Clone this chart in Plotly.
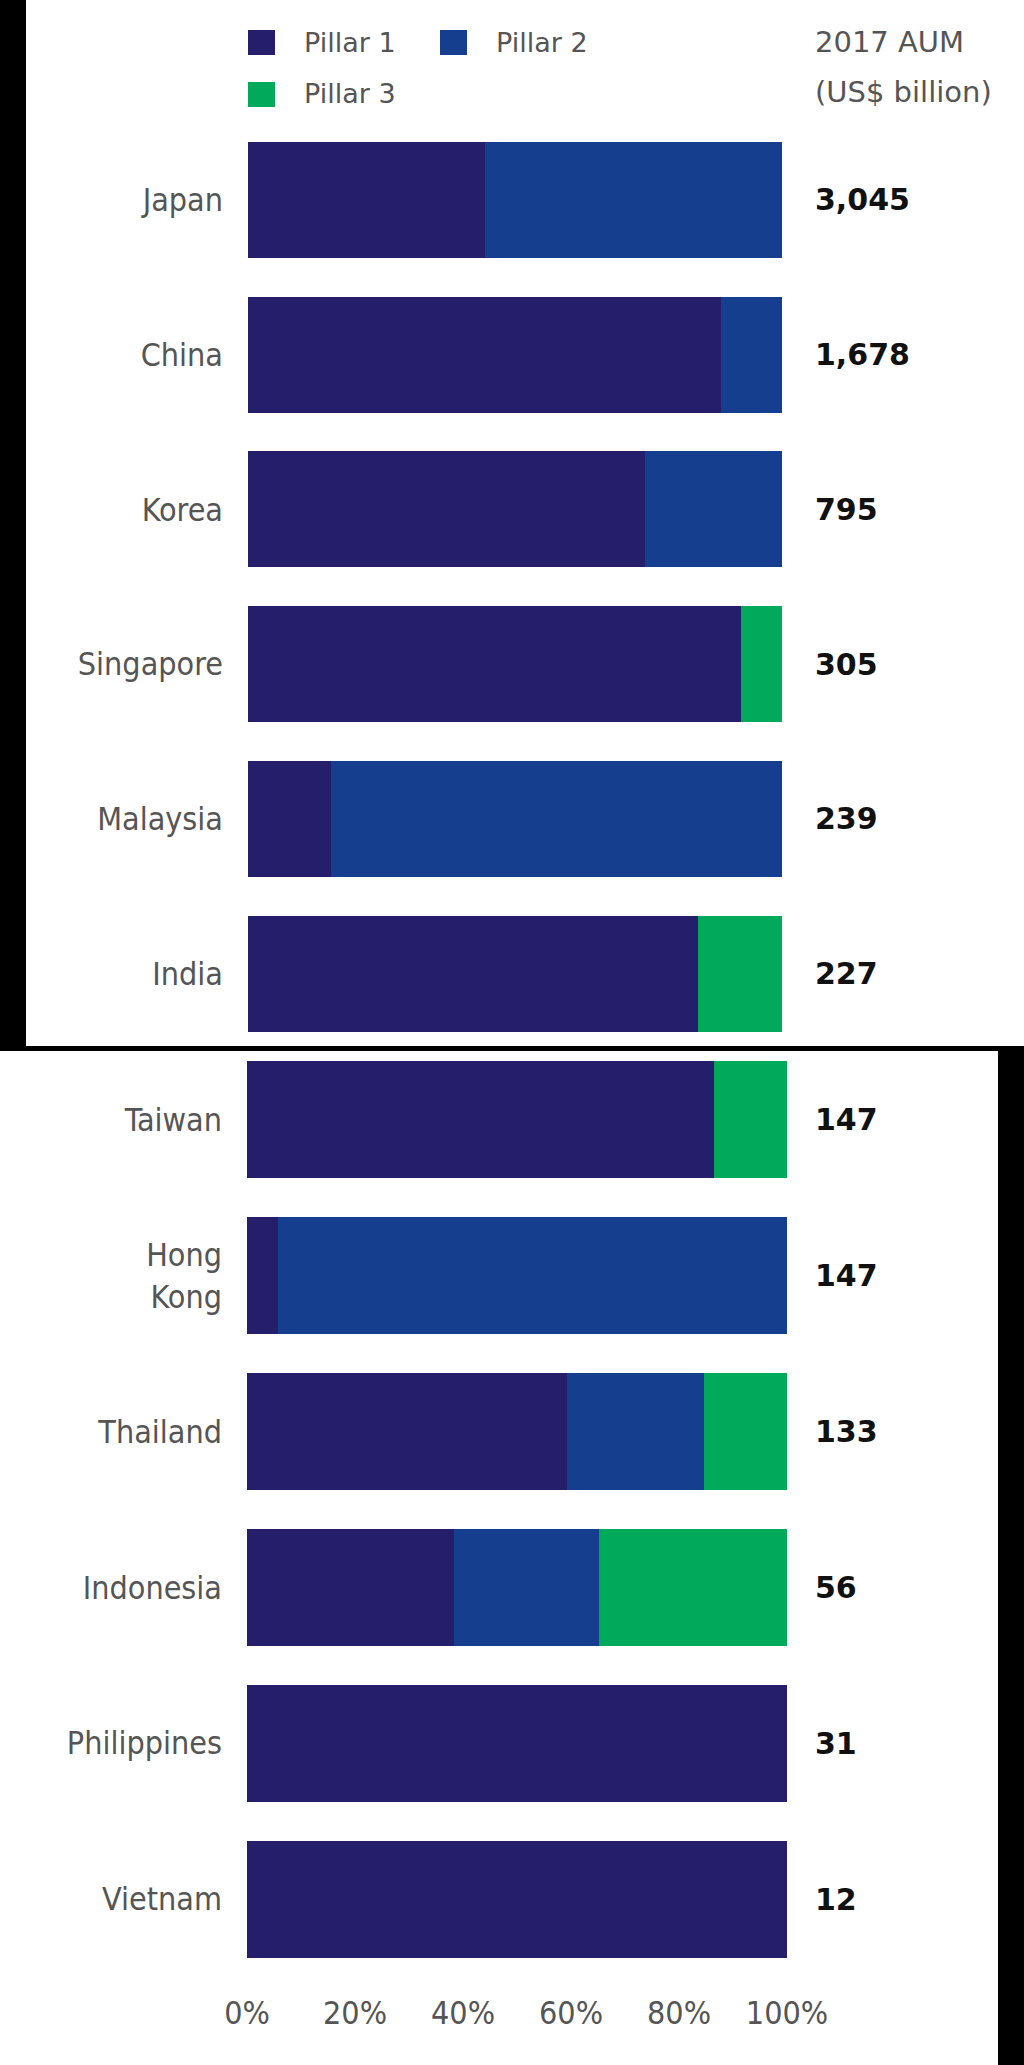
import plotly.graph_objects as go

# shares of AUM by pillar (%)
countries = ["Japan", "China", "Korea", "Singapore", "Malaysia", "India",
             "Taiwan", "Hong Kong", "Thailand", "Indonesia", "Philippines", "Vietnam"]
pillar_1 = [44.4, 88.5, 74.4, 92.3, 15.6, 84.3, 86.5, 5.7, 59.3, 38.3, 100, 100]
pillar_2 = [55.6, 11.5, 25.6, 0, 84.4, 0, 0, 94.3, 25.3, 26.8, 0, 0]
pillar_3 = [0, 0, 0, 7.7, 0, 15.7, 13.5, 0, 15.4, 34.9, 0, 0]
aum_2017 = [3045, 1678, 795, 305, 239, 227, 147, 147, 133, 56, 31, 12]

pillar_names = ["Pillar 1", "Pillar 2", "Pillar 3"]
pillar_colors = ["#251f6b", "#153f8e", "#00aa5a"]
x_ticks = [0, 20, 40, 60, 80, 100]

W, H = 1024, 2065
LABEL_FONT = "Liberation Sans Narrow, DejaVu Sans Condensed, Arial Narrow, sans-serif"
TEXT_FONT = "DejaVu Sans, Verdana, sans-serif"
GREY = "#555555"


def px_x(x):
    return x / W


def px_y(y):
    return 1 - y / H


# the picture is two screenshots stacked: first six countries, then the rest
split = 6
panels = [("x", "y", slice(0, split)), ("x2", "y2", slice(split, None))]

fig = go.Figure()
for name, color, values in zip(pillar_names, pillar_colors, [pillar_1, pillar_2, pillar_3]):
    for xa, ya, sl in panels:
        fig.add_trace(go.Bar(
            x=values[sl], y=countries[sl], orientation="h", name=name,
            marker=dict(color=color, line=dict(width=0)),
            xaxis=xa, yaxis=ya, showlegend=False,
            hovertemplate="%{y}: %{x}%<extra>" + name + "</extra>",
        ))


def y_axis(domain, cats, xa):
    return dict(
        domain=domain, anchor=xa, type="category", automargin=False,
        categoryorder="array", categoryarray=cats, autorange="reversed",
        tickvals=cats, ticktext=[c.replace(" ", "<br>") for c in cats],
        tickfont=dict(family=LABEL_FONT, size=32, color=GREY),
        ticklabelstandoff=24, ticks="", showgrid=False, zeroline=False, showline=False,
    )


fig.update_layout(
    width=W, height=H, autosize=False,
    margin=dict(l=0, r=0, t=0, b=0, pad=0, autoexpand=False),
    paper_bgcolor="white", plot_bgcolor="rgba(0,0,0,0)",
    barmode="stack", bargap=0.25,
    xaxis=dict(domain=[px_x(248), px_x(782)], anchor="y", range=[0, 100], automargin=False,
               showticklabels=False, ticks="", showgrid=False, zeroline=False),
    yaxis=y_axis([px_y(1051), px_y(122.6)], countries[:split], "x"),
    xaxis2=dict(domain=[px_x(247), px_x(787)], anchor="y2", range=[0, 100], automargin=False,
                tickmode="array", tickvals=x_ticks, ticktext=[f"{t}%" for t in x_ticks],
                ticks="", ticklabelstandoff=14,
                tickfont=dict(family=LABEL_FONT, size=32, color=GREY),
                showgrid=False, zeroline=False),
    yaxis2=y_axis([px_y(1977), px_y(1042)], countries[split:], "x2"),
)

# AUM values to the right of each bar
for i, (c, v) in enumerate(zip(countries, aum_2017)):
    fig.add_annotation(
        x=px_x(813), xref="paper", y=c, yref="y" if i < split else "y2",
        text=f"{v:,}", showarrow=False, xanchor="left", yanchor="middle",
        font=dict(family=TEXT_FONT, size=30, color="#111111", weight="bold"),
    )

# column header
for text, y in [("2017 AUM", 42), ("(US$ billion)", 92)]:
    fig.add_annotation(x=px_x(813), y=px_y(y), xref="paper", yref="paper", text=text,
                       showarrow=False, xanchor="left", yanchor="middle",
                       font=dict(family=TEXT_FONT, size=29, color=GREY))

# legend drawn by hand so the swatches can be large
legend_pos = [(248, 42), (440, 42), (248, 94)]
for name, color, (lx, ly) in zip(pillar_names, pillar_colors, legend_pos):
    fig.add_shape(type="rect", xref="paper", yref="paper",
                  x0=px_x(lx), x1=px_x(lx + 27), y0=px_y(ly + 13), y1=px_y(ly - 12),
                  fillcolor=color, line=dict(width=0))
    fig.add_annotation(x=px_x(lx + 54), y=px_y(ly), xref="paper", yref="paper", text=name,
                       showarrow=False, xanchor="left", yanchor="middle",
                       font=dict(family=TEXT_FONT, size=27, color=GREY))

# black edges left over from stitching the two screenshots
for x0, x1, y0, y1 in [(0, 26, 0, 1050), (0, W, 1046, 1051), (998, W, 1050, H)]:
    fig.add_shape(type="rect", xref="paper", yref="paper",
                  x0=px_x(x0), x1=px_x(x1), y0=px_y(y1), y1=px_y(y0),
                  fillcolor="black", line=dict(width=0), layer="above")

# drop the browser's default body margin so the figure fills the window
fig.write_html("out.html", config={"displayModeBar": False},
               post_script="document.body.style.margin='0px';")
